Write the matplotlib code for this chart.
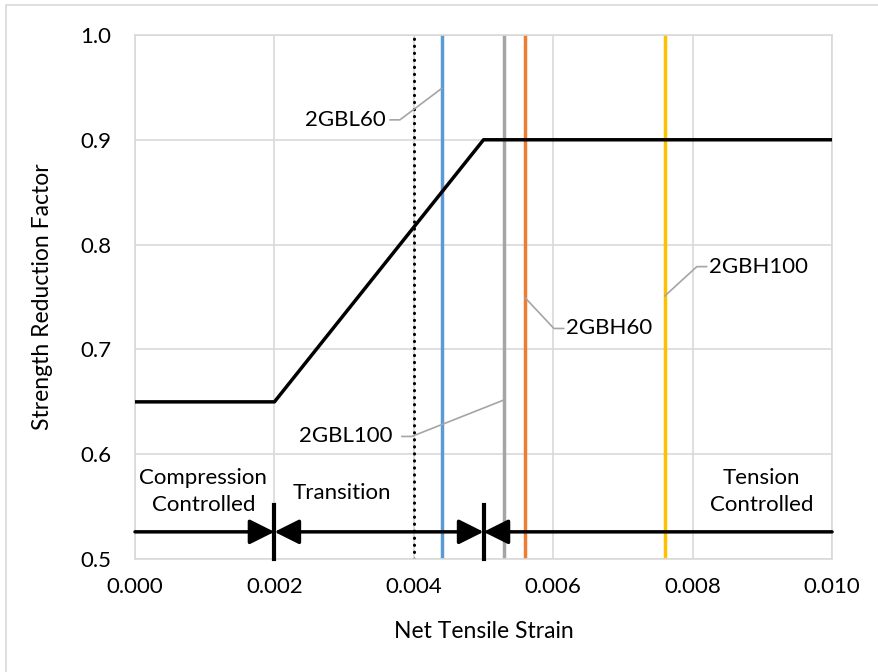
import matplotlib
matplotlib.use("Agg")
import matplotlib.pyplot as plt
from matplotlib.patches import Rectangle

plt.rcParams['font.family'] = ['Lato', 'DejaVu Sans']

# strength reduction factor curve
phi_strain = [0.0, 0.002, 0.005, 0.010]
phi_value = [0.65, 0.65, 0.90, 0.90]

# limit strain (dotted) and specimen strains
limit_strain = 0.004
specimens = ["2GBL60", "2GBL100", "2GBH60", "2GBH100"]
specimen_strain = [0.0044, 0.0053, 0.0056, 0.0076]
specimen_colors = ["#5B9BD5", "#A5A5A5", "#ED7D31", "#FFC000"]

# label positions: point y on line, elbow, text anchor, alignment
label_point_y = [0.949, 0.652, 0.749, 0.751]
label_elbow = [(0.00380, 0.919), (0.00397, 0.617), (0.00601, 0.720), (0.00806, 0.779)]
label_text = [(0.00359, 0.919), (0.00369, 0.617), (0.00618, 0.720), (0.00823, 0.779)]
label_side = ["right", "right", "left", "left"]

# zones
zone_bounds = [0.0, 0.002, 0.005, 0.010]
zone_y = 0.526
zone_names = ["Compression\nControlled", "Transition", "Tension\nControlled"]
zone_text_x = [0.00098, 0.00297, 0.00899]
zone_text_y = [0.5645, 0.563, 0.5645]

fig = plt.figure(figsize=(8.79, 6.72), dpi=100)
ax = fig.add_axes([0.1536, 0.168, 0.793, 0.780])

fig.patches.append(Rectangle((6 / 879, -0.1), 1.2, 667 / 672 + 0.1,
                             transform=fig.transFigure, fill=False,
                             edgecolor="#D9D9D9", linewidth=1.2))

ax.set_xlim(0, 0.010)
ax.set_ylim(0.5, 1.0)
ax.set_xticks([0, 0.002, 0.004, 0.006, 0.008, 0.010])
ax.set_xticklabels(["0.000", "0.002", "0.004", "0.006", "0.008", "0.010"])
ax.set_yticks([0.5, 0.6, 0.7, 0.8, 0.9, 1.0])
ax.set_yticklabels(["0.5", "0.6", "0.7", "0.8", "0.9", "1.0"])
ax.grid(True, color="#D9D9D9", linewidth=1.2)
ax.set_axisbelow(True)
for s in ax.spines.values():
    s.set_color("#D9D9D9")
    s.set_linewidth(1.2)
ax.tick_params(axis="x", length=0, labelsize=16, pad=13)
ax.tick_params(axis="y", length=0, labelsize=16, pad=17)
ax.set_xlabel("Net Tensile Strain", fontsize=16.5, labelpad=17)
ax.set_ylabel("Strength Reduction Factor", fontsize=16.5, labelpad=20)

ax.plot(phi_strain, phi_value, color="black", linewidth=2.5, zorder=3)
ax.axvline(limit_strain, color="black", linestyle=(0, (0.1, 2.2)), linewidth=2.2,
           dash_capstyle="round", zorder=2)
for x, c in zip(specimen_strain, specimen_colors):
    ax.axvline(x, color=c, linewidth=2.5, zorder=2)

for name, x, py, el, tx, side in zip(specimens, specimen_strain, label_point_y,
                                    label_elbow, label_text, label_side):
    ax.plot([x, el[0], el[0] + (-0.00014 if side == "right" else 0.00014)],
            [py, el[1], el[1]], color="#A5A5A5", linewidth=1.2, zorder=4)
    ax.text(tx[0], tx[1], name, ha=side, va="center", fontsize=16, zorder=5)

# zone arrows
head = dict(color="black", linewidth=2.5, mutation_scale=38, shrinkA=0, shrinkB=0)
ax.annotate("", xy=(zone_bounds[1], zone_y), xytext=(zone_bounds[0], zone_y),
            arrowprops=dict(arrowstyle="-|>", **head))
ax.annotate("", xy=(zone_bounds[1], zone_y), xytext=(zone_bounds[2], zone_y),
            arrowprops=dict(arrowstyle="<|-|>", **head))
ax.annotate("", xy=(zone_bounds[2], zone_y), xytext=(zone_bounds[3], zone_y),
            arrowprops=dict(arrowstyle="-|>", **head))
for xb in zone_bounds[1:3]:
    ax.plot([xb, xb], [0.5, 0.552], color="black", linewidth=3, zorder=5,
            clip_on=False)

for name, tx, ty in zip(zone_names, zone_text_x, zone_text_y):
    ax.text(tx, ty, name, ha="center", va="center", fontsize=16,
            linespacing=1.4, zorder=5)

fig.savefig("out.png", dpi=100)
